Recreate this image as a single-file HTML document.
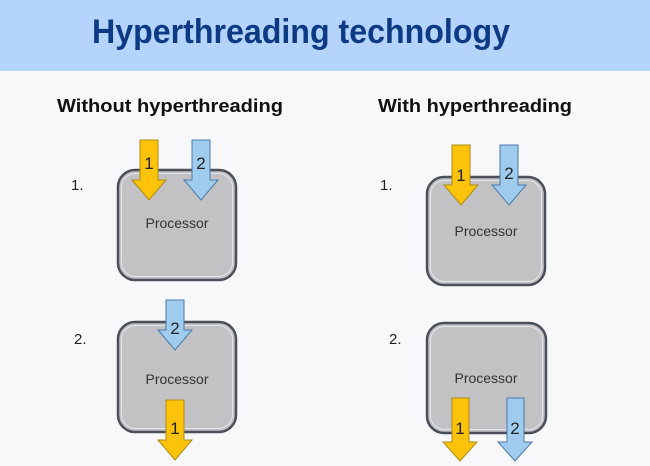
<!DOCTYPE html>
<html><head><meta charset="utf-8"><style>
html,body{margin:0;padding:0;width:650px;height:466px;overflow:hidden;background:#f8f8fa;}
svg{display:block}
</style></head><body>
<svg width="650" height="466" viewBox="0 0 650 466" xmlns="http://www.w3.org/2000/svg" font-family="Liberation Sans, DejaVu Sans, sans-serif">
<rect x="0" y="0" width="650" height="71" fill="#b5d4fd"/>
<text x="92" y="43" font-size="34" font-weight="bold" fill="#0d3a85" textLength="418" lengthAdjust="spacingAndGlyphs">Hyperthreading technology</text>
<text x="57" y="112" font-size="18" font-weight="bold" fill="#111" textLength="226" lengthAdjust="spacingAndGlyphs">Without hyperthreading</text>
<text x="378" y="112" font-size="18" font-weight="bold" fill="#111" textLength="194" lengthAdjust="spacingAndGlyphs">With hyperthreading</text>
<g font-size="15" fill="#222">
<text x="71" y="190">1.</text><text x="74" y="344">2.</text>
<text x="380" y="190">1.</text><text x="389" y="344">2.</text>
</g>
<g fill="#c2c2c4" stroke="#4a4f5a" stroke-width="2.5">
<rect x="118" y="170" width="118" height="110" rx="17"/>
<rect x="118" y="322" width="118" height="110" rx="17"/>
<rect x="427" y="177" width="118" height="108" rx="17"/>
<rect x="427" y="323" width="119" height="110" rx="17"/>
</g>
<g fill="none" stroke="#e6e6e8" stroke-width="1">
<rect x="121.5" y="173.5" width="111" height="103" rx="14"/>
<rect x="121.5" y="325.5" width="111" height="103" rx="14"/>
<rect x="430.5" y="180.5" width="111" height="101" rx="14"/>
<rect x="430.5" y="326.5" width="112" height="103" rx="14"/>
</g>
<g font-size="14" fill="#333" text-anchor="middle">
<text x="177" y="228">Processor</text>
<text x="177" y="384">Processor</text>
<text x="486" y="236">Processor</text>
<text x="486" y="383">Processor</text>
</g>
<g stroke-width="1" stroke-linejoin="miter">
<path d="M140,140 H158 V180 H166 L149,200 L132,180 H140 Z" fill="#fdc20a" stroke="#b08a10"/>
<path d="M192,140 H210 V180 H218 L201,200 L184,180 H192 Z" fill="#9fcbef" stroke="#4a7aa8"/>
<path d="M166,300 H184 V330 H192 L175,350 L158,330 H166 Z" fill="#9fcbef" stroke="#4a7aa8"/>
<path d="M166,400 H184 V440 H192 L175,460 L158,440 H166 Z" fill="#fdc20a" stroke="#b08a10"/>
<path d="M452,145 H470 V185 H478 L461,205 L444,185 H452 Z" fill="#fdc20a" stroke="#b08a10"/>
<path d="M500,145 H518 V185 H526 L509,205 L492,185 H500 Z" fill="#9fcbef" stroke="#4a7aa8"/>
<path d="M452,398 H469 V442 H477 L460,461 L443,442 H452 Z" fill="#fdc20a" stroke="#b08a10"/>
<path d="M507,398 H524 V442 H532 L515,461 L498,442 H507 Z" fill="#9fcbef" stroke="#4a7aa8"/>
</g>
<g font-size="17" fill="#222" text-anchor="middle">
<text x="149" y="169">1</text><text x="201" y="169">2</text>
<text x="175" y="334">2</text><text x="175" y="434">1</text>
<text x="461" y="181">1</text><text x="509" y="179">2</text>
<text x="460" y="434">1</text><text x="515" y="434">2</text>
</g>
</svg>
</body></html>
